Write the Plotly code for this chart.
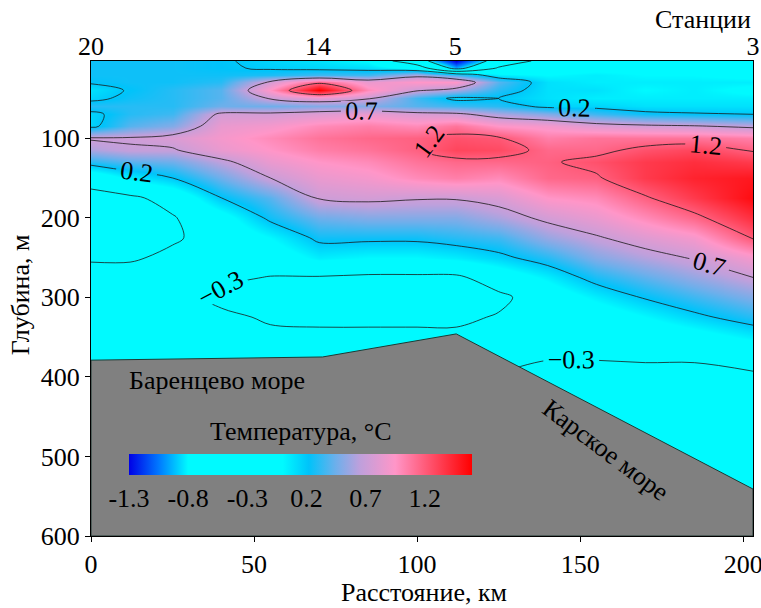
import plotly.graph_objects as go

# ---- data ----
dist_km = [0, 12, 25, 40, 55, 70, 85, 100, 112, 125, 140, 155, 170, 185, 203]
depth_m = [3, 12, 20, 30, 40, 50, 60, 70, 85, 100, 115, 130, 150, 175, 200,
           225, 250, 275, 300, 325, 350, 375, 400, 450, 500, 550, 600]
temp_c = [
    [0.25, 0.25, 0.25, 0.22, 0.15, 0.10, 0.00, -0.60, -1.30, -0.60, -0.15, -0.10, -0.12, -0.10, -0.15],
    [0.25, 0.25, 0.25, 0.22, 0.18, 0.15, 0.12, -0.05, -0.95, -0.25, -0.10, -0.05, -0.05, -0.05, -0.10],
    [0.25, 0.25, 0.25, 0.25, 0.28, 0.35, 0.35, 0.60, 0.35, 0.05, 0.00, 0.05, 0.00, 0.00, -0.05],
    [0.22, 0.25, 0.25, 0.30, 0.75, 1.15, 0.85, 0.95, 0.95, 0.40, 0.10, 0.05, 0.05, 0.05, 0.05],
    [0.10, 0.22, 0.30, 0.40, 0.95, 1.60, 1.00, 0.72, 0.60, 0.30, 0.10, 0.10, 0.00, 0.05, -0.05],
    [0.15, 0.25, 0.30, 0.40, 0.72, 0.85, 0.72, 0.35, 0.15, 0.20, 0.10, 0.05, 0.05, 0.05, 0.05],
    [0.30, 0.30, 0.30, 0.45, 0.45, 0.50, 0.50, 0.40, 0.35, 0.30, 0.15, 0.15, 0.10, 0.10, 0.10],
    [0.15, 0.30, 0.35, 0.75, 0.75, 0.80, 0.85, 0.78, 0.75, 0.60, 0.50, 0.35, 0.25, 0.22, 0.20],
    [0.15, 0.40, 0.50, 0.85, 0.90, 1.00, 1.05, 1.00, 1.10, 0.95, 0.90, 0.80, 0.75, 0.72, 0.65],
    [0.72, 0.72, 0.78, 0.90, 1.00, 1.10, 1.15, 1.18, 1.25, 1.22, 1.05, 1.10, 1.10, 1.10, 1.05],
    [0.60, 0.68, 0.68, 0.85, 0.95, 1.05, 1.10, 1.18, 1.30, 1.28, 1.15, 1.15, 1.25, 1.30, 1.18],
    [0.30, 0.40, 0.45, 0.65, 0.85, 0.95, 1.00, 1.10, 1.15, 1.15, 1.18, 1.25, 1.35, 1.40, 1.35],
    [-0.20, 0.05, 0.20, 0.45, 0.70, 0.85, 0.90, 1.00, 1.05, 1.00, 1.15, 1.18, 1.35, 1.45, 1.50],
    [-0.38, -0.35, -0.20, 0.20, 0.40, 0.72, 0.75, 0.72, 0.72, 0.78, 0.95, 1.00, 1.18, 1.35, 1.55],
    [-0.42, -0.42, -0.32, -0.10, 0.25, 0.45, 0.50, 0.50, 0.50, 0.60, 0.75, 0.85, 1.00, 1.15, 1.40],
    [-0.40, -0.40, -0.33, -0.20, 0.00, 0.25, 0.25, 0.25, 0.30, 0.35, 0.55, 0.68, 0.80, 0.90, 1.22],
    [-0.33, -0.33, -0.25, -0.20, -0.15, 0.05, 0.00, 0.00, 0.05, 0.15, 0.30, 0.50, 0.62, 0.72, 0.90],
    [-0.20, -0.20, -0.20, -0.25, -0.31, -0.32, -0.35, -0.35, -0.35, -0.15, 0.05, 0.28, 0.42, 0.55, 0.70],
    [-0.15, -0.15, -0.20, -0.36, -0.40, -0.42, -0.45, -0.45, -0.45, -0.36, -0.15, 0.05, 0.22, 0.35, 0.50],
    [-0.15, -0.15, -0.20, -0.25, -0.33, -0.35, -0.35, -0.35, -0.35, -0.28, -0.25, -0.15, 0.00, 0.15, 0.30],
    [-0.15, -0.15, -0.20, -0.20, -0.25, -0.25, -0.25, -0.25, -0.25, -0.22, -0.28, -0.25, -0.20, -0.10, 0.05],
    [-0.15, -0.15, -0.20, -0.20, -0.20, -0.20, -0.20, -0.20, -0.25, -0.25, -0.29, -0.29, -0.28, -0.28, -0.25],
    [-0.15, -0.15, -0.20, -0.20, -0.20, -0.20, -0.20, -0.20, -0.25, -0.31, -0.35, -0.35, -0.35, -0.35, -0.32],
    [-0.15, -0.15, -0.20, -0.20, -0.20, -0.20, -0.20, -0.20, -0.25, -0.30, -0.35, -0.38, -0.40, -0.40, -0.40],
    [-0.15, -0.15, -0.20, -0.20, -0.20, -0.20, -0.20, -0.20, -0.25, -0.30, -0.35, -0.38, -0.40, -0.45, -0.45],
    [-0.15, -0.15, -0.20, -0.20, -0.20, -0.20, -0.20, -0.20, -0.25, -0.30, -0.35, -0.38, -0.40, -0.45, -0.45],
    [-0.15, -0.15, -0.20, -0.20, -0.20, -0.20, -0.20, -0.20, -0.25, -0.30, -0.35, -0.38, -0.40, -0.45, -0.45],
]

bottom_km = [0, 71, 112, 203]
bottom_depth = [379, 375, 346, 541]

station_km = [0, 69.6, 111.7, 203]
station_labels = ["20", "14", "5", "3"]

x_ticks = [0, 50, 100, 150, 200]
y_ticks = [100, 200, 300, 400, 500, 600]
cbar_ticks = [-1.3, -0.8, -0.3, 0.2, 0.7, 1.2]

ZMIN, ZMAX = -1.3, 1.6
X_RANGE = [0, 203]
Y_RANGE = [600, 3]

FONT = "Liberation Serif"
FS = 26


def f(v):
    return (v - ZMIN) / (ZMAX - ZMIN)


colorscale = [
    [f(-1.3), "rgb(0,0,230)"],
    [f(-1.05), "rgb(0,120,255)"],
    [f(-0.8), "rgb(0,250,255)"],
    [f(0.0), "rgb(0,250,255)"],
    [f(0.22), "rgb(0,195,250)"],
    [f(0.45), "rgb(110,175,235)"],
    [f(0.65), "rgb(190,160,220)"],
    [f(0.95), "rgb(255,150,200)"],
    [f(1.6), "rgb(255,0,0)"],
]

fig = go.Figure()

fig.add_trace(go.Contour(
    x=dist_km, y=depth_m, z=temp_c,
    zmin=ZMIN, zmax=ZMAX, zauto=False,
    colorscale=colorscale, showscale=False,
    contours=dict(start=-0.8, end=1.2, size=0.5, coloring="heatmap",
                  showlabels=True,
                  labelfont=dict(family=FONT, size=FS, color="black"),
                  labelformat=".1f"),
    line=dict(color="#1a1a1a", width=0.8, smoothing=1),
    hoverinfo="skip",
))

# sea floor polygon
poly_x = bottom_km + [X_RANGE[1], X_RANGE[0], bottom_km[0]]
poly_y = bottom_depth + [Y_RANGE[0], Y_RANGE[0], bottom_depth[0]]
fig.add_trace(go.Scatter(
    x=poly_x, y=poly_y, mode="lines", fill="toself",
    fillcolor="rgb(128,128,128)", line=dict(color="#1e3a34", width=1),
    showlegend=False, hoverinfo="skip",
))

# smooth colour bar (no contour level lines)
fig.add_trace(go.Scatter(
    x=[None, None], y=[None, None], mode="markers", showlegend=False, hoverinfo="skip",
    marker=dict(color=[ZMIN, ZMAX], cmin=ZMIN, cmax=ZMAX, colorscale=colorscale,
                showscale=True,
                colorbar=dict(orientation="h", x=0.3165, xanchor="center",
                              y=(535.5 - 454) / 474.5, yanchor="top",
                              len=343 / 662, lenmode="fraction", thickness=21,
                              xpad=0, ypad=0, outlinewidth=0, ticks="",
                              tickvals=cbar_ticks,
                              ticktext=[f"{v:.1f}" for v in cbar_ticks],
                              tickfont=dict(family=FONT, size=FS, color="black"),
                              bgcolor="rgba(0,0,0,0)")),
))

# helper for station axis
fig.add_trace(go.Scatter(x=station_km, y=[None] * len(station_km), xaxis="x2",
                         mode="markers", showlegend=False, hoverinfo="skip"))

fig.update_layout(
    width=761, height=608,
    margin=dict(l=91, r=8, t=61, b=72, autoexpand=False),
    paper_bgcolor="white", plot_bgcolor="white",
    font=dict(family=FONT, size=FS, color="black"),
    showlegend=False,
    xaxis=dict(range=X_RANGE, tickvals=x_ticks, ticks="outside", ticklen=5,
               tickcolor="black", showline=True, linecolor="black", linewidth=1,
               mirror=True, showgrid=False, zeroline=False,
               ticklabeloverflow="allow",
               tickfont=dict(family=FONT, size=FS)),
    xaxis2=dict(range=X_RANGE, overlaying="x", side="top", tickvals=station_km,
                ticktext=station_labels, ticks="", showline=False,
                showgrid=False, zeroline=False, ticklabeloverflow="allow",
                tickfont=dict(family=FONT, size=FS)),
    yaxis=dict(range=Y_RANGE, tickvals=y_ticks, ticks="outside", ticklen=5,
               tickcolor="black", showline=True, linecolor="black", linewidth=1,
               mirror=True, showgrid=False, zeroline=False,
               ticklabeloverflow="allow",
               tickfont=dict(family=FONT, size=FS)),
    annotations=[
        dict(text="Станции", xref="paper", yref="paper", x=1.0, y=(535.5 - 20) / 474.5,
             xanchor="right", yanchor="middle", showarrow=False,
             font=dict(family=FONT, size=FS)),
        dict(text="Глубина, м", xref="paper", yref="paper",
             x=(20 - 91) / 662, y=(535.5 - 295) / 474.5, textangle=-90,
             xanchor="center", yanchor="middle", showarrow=False,
             font=dict(family=FONT, size=FS)),
        dict(text="Расстояние, км", xref="paper", yref="paper",
             x=(424 - 91) / 662, y=(535.5 - 592) / 474.5,
             xanchor="center", yanchor="middle", showarrow=False,
             font=dict(family=FONT, size=FS)),
        dict(text="Баренцево море", xref="x", yref="y", x=11, y=404,
             xanchor="left", yanchor="middle", showarrow=False,
             font=dict(family=FONT, size=FS)),
        dict(text="Карское море", xref="x", yref="y", x=158, y=492,
             xanchor="center", yanchor="middle", showarrow=False, textangle=37,
             font=dict(family=FONT, size=FS)),
        dict(text="Температура, °C", xref="paper", yref="paper",
             x=0.3165, y=(535.5 - 431) / 474.5,
             xanchor="center", yanchor="middle", showarrow=False,
             font=dict(family=FONT, size=FS)),
    ],
)

fig.write_html("out.html")
